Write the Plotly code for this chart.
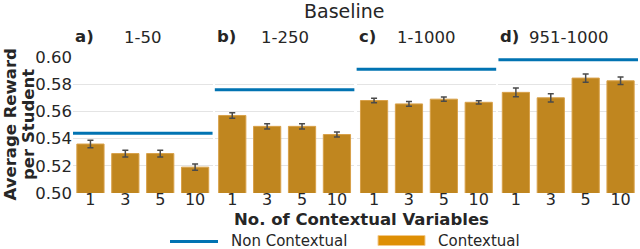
import plotly.graph_objects as go
from plotly.subplots import make_subplots

# ---- data ----
groups = ["1-50", "1-250", "1-1000", "951-1000"]
letters = ["a)", "b)", "c)", "d)"]
n_vars = ["1", "3", "5", "10"]
contextual_a = [0.536, 0.529, 0.529, 0.519]
contextual_b = [0.557, 0.549, 0.549, 0.543]
contextual_c = [0.568, 0.5655, 0.569, 0.5667]
contextual_d = [0.574, 0.570, 0.5845, 0.5825]
err_a = [0.0027, 0.0025, 0.0025, 0.0023]
err_b = [0.0020, 0.0020, 0.0019, 0.0018]
err_c = [0.0016, 0.0017, 0.0016, 0.0012]
err_d = [0.0032, 0.0030, 0.0030, 0.0028]
non_contextual = [0.544, 0.576, 0.591, 0.598]
y_ticks = [0.50, 0.52, 0.54, 0.56, 0.58, 0.60]

contextual = [contextual_a, contextual_b, contextual_c, contextual_d]
errors = [err_a, err_b, err_c, err_d]

W, H = 640, 249
ML, MR, MT, MB = 73, 2, 57, 56
PW, PH = W - ML - MR, H - MT - MB

TEXT = "#262626"
FONT = "DejaVu Sans"
BAR = "#c0861f"
BAR_EDGE = "#d8a14a"
LEG_BAR = "#de8f05"
BLUE = "#0173b2"
GRID = "#e4e4e4"

fig = make_subplots(rows=1, cols=4, shared_yaxes=True, horizontal_spacing=0.004)

for i in range(4):
    fig.add_trace(
        go.Bar(
            x=n_vars, y=contextual[i],
            marker=dict(color=BAR, line=dict(color=BAR_EDGE, width=1)),
            error_y=dict(type="data", array=errors[i], color="#4a4a4a", thickness=1.5, width=3),
            showlegend=False,
        ),
        row=1, col=i + 1,
    )
    xr = "x" if i == 0 else f"x{i + 1}"
    fig.add_shape(type="line", xref=f"{xr} domain", x0=0, x1=1, yref="y",
                  y0=non_contextual[i], y1=non_contextual[i],
                  line=dict(color=BLUE, width=3), layer="above")
    fig.add_annotation(text=f"<b>{letters[i]}</b>", xref=f"{xr} domain", x=0, xanchor="left",
                       yref="paper", y=1, yanchor="bottom", yshift=9, showarrow=False,
                       font=dict(size=16.5, color=TEXT, family=FONT))
    fig.add_annotation(text=groups[i], xref=f"{xr} domain", x=0.5, xanchor="center",
                       yref="paper", y=1, yanchor="bottom", yshift=8, showarrow=False,
                       font=dict(size=16.5, color=TEXT, family=FONT))

fig.update_xaxes(showgrid=False, showline=False, ticks="", range=[-0.5, 3.5],
                 ticklabelstandoff=-5,
                 tickfont=dict(size=16, color=TEXT, family=FONT))
fig.update_yaxes(range=[0.5, 0.6], tickvals=y_ticks, ticktext=[f"{v:.2f}" for v in y_ticks],
                 showgrid=True, gridcolor=GRID, gridwidth=1, showline=False, ticks="",
                 zeroline=False, tickfont=dict(size=16.5, color=TEXT, family=FONT))

def px_x(p):
    return (p - ML) / PW

def px_y(p):
    return (H - MB - p) / PH

# titles / axis labels
fig.add_annotation(text="Baseline", xref="paper", yref="paper", x=px_x(344), y=px_y(11),
                   xanchor="center", yanchor="middle", showarrow=False,
                   font=dict(size=19, color=TEXT, family=FONT))
fig.add_annotation(text="<b>No. of Contextual Variables</b>", xref="paper", yref="paper",
                   x=px_x(361), y=px_y(219), xanchor="center", yanchor="middle", showarrow=False,
                   font=dict(size=16.5, color=TEXT, family=FONT))
fig.add_annotation(text="<b>Average Reward</b>", xref="paper", yref="paper",
                   x=px_x(9.5), y=0.5, xanchor="center", yanchor="middle", textangle=-90,
                   showarrow=False, font=dict(size=16.5, color=TEXT, family=FONT))
fig.add_annotation(text="<b>per Student</b>", xref="paper", yref="paper",
                   x=px_x(28), y=0.5, xanchor="center", yanchor="middle", textangle=-90,
                   showarrow=False, font=dict(size=16.5, color=TEXT, family=FONT))

# legend (manual)
fig.add_shape(type="line", xref="paper", yref="paper", x0=px_x(170), x1=px_x(218),
              y0=px_y(241.5), y1=px_y(241.5), line=dict(color=BLUE, width=3))
fig.add_annotation(text="Non Contextual", xref="paper", yref="paper", x=px_x(229), y=px_y(241),
                   xanchor="left", yanchor="middle", showarrow=False,
                   font=dict(size=15, color=TEXT, family=FONT))
fig.add_shape(type="rect", xref="paper", yref="paper", x0=px_x(378), x1=px_x(425),
              y0=px_y(235.5), y1=px_y(245.5), fillcolor=LEG_BAR, line=dict(color="#f2c98a", width=1))
fig.add_annotation(text="Contextual", xref="paper", yref="paper", x=px_x(436), y=px_y(241),
                   xanchor="left", yanchor="middle", showarrow=False,
                   font=dict(size=15, color=TEXT, family=FONT))

fig.update_layout(width=W, height=H, margin=dict(l=ML, r=MR, t=MT, b=MB),
                  plot_bgcolor="white", paper_bgcolor="white", bargap=0.22,
                  font=dict(family=FONT, color=TEXT), showlegend=False)

fig.write_html("out.html", config={"displayModeBar": False},
               post_script="document.body.style.margin='0';")
